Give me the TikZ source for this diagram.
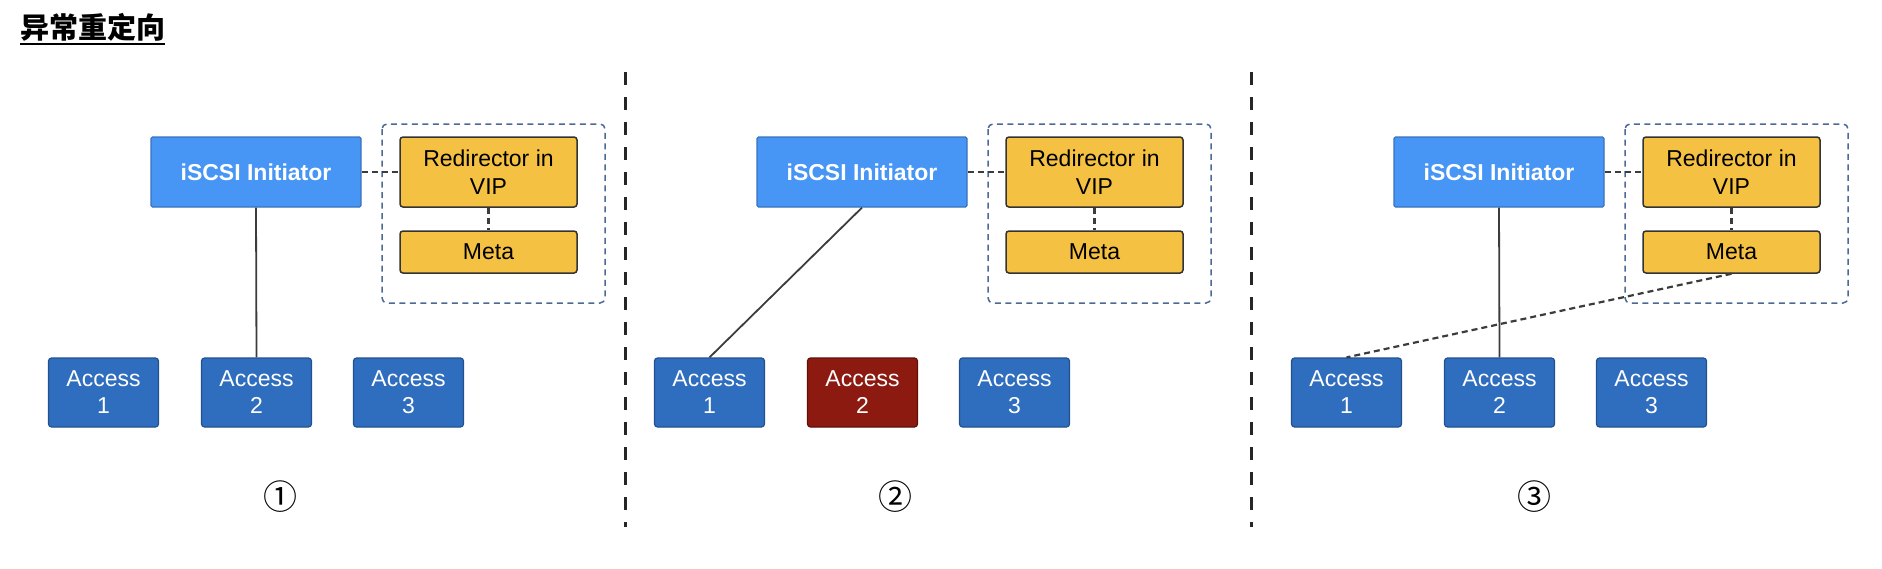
\documentclass[tikz,border=0pt]{standalone}
\usepackage{fontspec}
\setmainfont{Liberation Sans}
\newfontfamily\cjk{Noto Sans CJK SC}
\definecolor{initblue}{HTML}{4795F4}
\definecolor{initedge}{HTML}{3A72BE}
\definecolor{accblue}{HTML}{2F6DBE}
\definecolor{accedge}{HTML}{21528F}
\definecolor{failred}{HTML}{8C1A10}
\definecolor{failedge}{HTML}{5E110A}
\definecolor{vipyellow}{HTML}{F4C142}
\definecolor{vipedge}{HTML}{333333}
\definecolor{groupedge}{HTML}{4C6A94}
\definecolor{wire}{HTML}{3C3C3C}
\newcommand{\pb}{606}
\newcommand{\pc}{1243}

\begin{document}
\begin{tikzpicture}[x=1pt, y=-1pt,
    every node/.style={inner sep=0pt, font=\fontsize{23}{28}\selectfont},
    initbox/.style={draw=initedge, fill=initblue, line width=1.2pt, rounded corners=1.5pt, minimum width=210pt, minimum height=70pt, text=white, font=\fontsize{23}{28}\selectfont\bfseries},
    vipbox/.style={draw=vipedge, fill=vipyellow, line width=1.5pt, rounded corners=3pt, minimum width=177pt, align=center},
    accbox/.style={draw=accedge, fill=accblue, line width=1.2pt, rounded corners=3pt, minimum width=110pt, minimum height=69pt, text=white, align=center, font=\fontsize{23}{27}\selectfont},
    failbox/.style={accbox, draw=failedge, fill=failred},
    groupbox/.style={draw=groupedge, line width=1.5pt, dash pattern=on 6pt off 4.5pt, rounded corners=5pt},
    link/.style={draw=wire, line width=1.8pt},
    dashlink/.style={draw=wire, line width=2.2pt, dash pattern=on 6pt off 4pt},
    divider/.style={draw=black!85, line width=3pt, dash pattern=on 13pt off 12pt},
    stage/.style={font=\cjk\fontsize{34}{34}\selectfont}]
    \useasboundingbox (0,0) rectangle (1882,568);

    % Title
    \node[anchor=base west, font=\cjk\bfseries\fontsize{29}{29}\selectfont] (title) at (20,38) {异常重定向};
    \draw[line width=2.5pt] ([yshift=-6pt]title.base west) -- ([yshift=-6pt]title.base east);

    % Dividers
    \draw[divider] (625,72) -- (625,527);
    \draw[divider] (1251,72) -- (1251,527);

    % First panel
    \draw[groupbox] (382,124) rectangle (605,303);
    \node[initbox] (init-1) at (256,172) {iSCSI Initiator};
    \node[vipbox, minimum height=70pt] (redir-1) at (488.5,172) {Redirector in\\VIP};
    \node[vipbox, minimum height=42pt] (meta-1) at (488.5,252) {Meta};
    \node[accbox] (acc-1-1) at (103.5,392.5) {Access\\1};
    \node[accbox] (acc-1-2) at (256.5,392.5) {Access\\2};
    \node[accbox] (acc-1-3) at (408.5,392.5) {Access\\3};
    \node[stage] (num-1) at (280,497) {①};
    \draw[dashlink] (init-1) -- (redir-1);
    \draw[dashlink] (redir-1) -- (meta-1);
    \draw[link] (init-1.south) -- (acc-1-2.north);

    % Second panel
    \draw[groupbox] (\pb+382,124) rectangle (\pb+605,303);
    \node[initbox] (init-2) at (\pb+256,172) {iSCSI Initiator};
    \node[vipbox, minimum height=70pt] (redir-2) at (\pb+488.5,172) {Redirector in\\VIP};
    \node[vipbox, minimum height=42pt] (meta-2) at (\pb+488.5,252) {Meta};
    \node[accbox] (acc-2-1) at (\pb+103.5,392.5) {Access\\1};
    \node[failbox] (acc-2-2) at (\pb+256.5,392.5) {Access\\2};
    \node[accbox] (acc-2-3) at (\pb+408.5,392.5) {Access\\3};
    \node[stage] (num-2) at (895,497) {②};
    \draw[dashlink] (init-2) -- (redir-2);
    \draw[dashlink] (redir-2) -- (meta-2);
    \draw[link] (init-2.south) -- (acc-2-1.north);

    % Third panel
    \draw[groupbox] (\pc+382,124) rectangle (\pc+605,303);
    \node[initbox] (init-3) at (\pc+256,172) {iSCSI Initiator};
    \node[vipbox, minimum height=70pt] (redir-3) at (\pc+488.5,172) {Redirector in\\VIP};
    \node[vipbox, minimum height=42pt] (meta-3) at (\pc+488.5,252) {Meta};
    \node[accbox] (acc-3-1) at (\pc+103.5,392.5) {Access\\1};
    \node[accbox] (acc-3-2) at (\pc+256.5,392.5) {Access\\2};
    \node[accbox] (acc-3-3) at (\pc+408.5,392.5) {Access\\3};
    \node[stage] (num-3) at (1534,497) {③};
    \draw[dashlink] (init-3) -- (redir-3);
    \draw[dashlink] (redir-3) -- (meta-3);
    \draw[link] (init-3.south) -- (acc-3-2.north);
    \draw[dashlink] (meta-3.south) -- (acc-3-1.north);
\end{tikzpicture}
\end{document}
